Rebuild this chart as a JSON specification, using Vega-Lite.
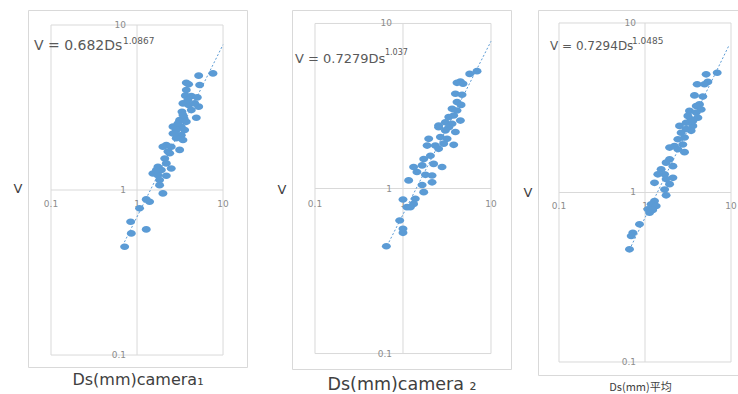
{
  "$schema": "https://vega.github.io/schema/vega-lite/v6.json",
  "background": "white",
  "padding": {"left": 12, "top": 9, "right": 0, "bottom": 0},
  "config": {
    "view": {"stroke": "#d9d9d9", "strokeWidth": 1},
    "axis": {"labels": false, "ticks": false, "domain": false, "grid": false, "titleFontWeight": "normal", "titleColor": "#404040", "titleFont": "DejaVu Sans"},
    "axisY": {"titleAngle": 0, "titleAlign": "right", "titleBaseline": "middle", "titlePadding": 6, "titleFontSize": 13},
    "text": {"font": "DejaVu Sans"}
  },
  "datasets": {
    "grid": [
      {"x": 0.1, "x2": 0.1, "y": 0.1, "y2": 10},
      {"x": 1, "x2": 1, "y": 0.1, "y2": 10},
      {"x": 10, "x2": 10, "y": 0.1, "y2": 10},
      {"x": 0.1, "x2": 10, "y": 0.1, "y2": 0.1},
      {"x": 0.1, "x2": 10, "y": 1, "y2": 1},
      {"x": 0.1, "x2": 10, "y": 10, "y2": 10}
    ],
    "ylab": [{"x": 1, "y": 10, "t": "10"}, {"x": 1, "y": 1, "t": "1"}, {"x": 1, "y": 0.1, "t": "0.1"}],
    "xlab": [{"x": 0.1, "y": 1, "t": "0.1"}, {"x": 1, "y": 1, "t": "1"}, {"x": 10, "y": 1, "t": "10"}],
    "t1": [{"x": 0.68, "y": 0.46}, {"x": 10, "y": 7.6}],
    "t2": [{"x": 0.66, "y": 0.45}, {"x": 10, "y": 7.8}],
    "t3": [{"x": 0.66, "y": 0.46}, {"x": 9.5, "y": 7.4}],
    "e1": [{"x": 0.0634, "y": 7.05, "t": "V = 0.682Ds"}],
    "s1": [{"x": 0.687, "y": 7.67, "t": "1.0867"}],
    "e2": [{"x": 0.0593, "y": 5.8, "t": "V = 0.7279Ds"}],
    "s2": [{"x": 0.624, "y": 6.4, "t": "1.037"}],
    "e3": [{"x": 0.0786, "y": 6.93, "t": "V = 0.7294Ds"}],
    "s3": [{"x": 0.706, "y": 7.52, "t": "1.0485"}],
    "p1": [
      {"x": 7.64, "y": 5.09}, {"x": 5.21, "y": 4.93}, {"x": 3.74, "y": 4.47}, {"x": 3.98, "y": 4.37}, {"x": 5.35, "y": 4.33},
      {"x": 3.65, "y": 3.73}, {"x": 4.28, "y": 3.71}, {"x": 5.02, "y": 3.64}, {"x": 3.42, "y": 3.35}, {"x": 3.98, "y": 3.27},
      {"x": 5.21, "y": 3.2}, {"x": 3.33, "y": 2.98}, {"x": 4.28, "y": 3.05}, {"x": 4.89, "y": 2.74}, {"x": 3.52, "y": 2.72},
      {"x": 3.13, "y": 2.65}, {"x": 3.74, "y": 2.59}, {"x": 2.62, "y": 2.42}, {"x": 3.27, "y": 2.42}, {"x": 2.86, "y": 2.31},
      {"x": 3.58, "y": 2.31}, {"x": 2.62, "y": 2.2}, {"x": 3.27, "y": 2.15}, {"x": 2.86, "y": 2.06}, {"x": 3.42, "y": 2.01},
      {"x": 2.19, "y": 1.87}, {"x": 2.0, "y": 1.83}, {"x": 2.5, "y": 1.83}, {"x": 3.13, "y": 1.75}, {"x": 2.29, "y": 1.71},
      {"x": 2.1, "y": 1.55}, {"x": 2.19, "y": 1.45}, {"x": 1.75, "y": 1.38}, {"x": 2.5, "y": 1.35}, {"x": 1.92, "y": 1.32},
      {"x": 1.53, "y": 1.26}, {"x": 1.75, "y": 1.23}, {"x": 2.19, "y": 1.22}, {"x": 1.83, "y": 1.15}, {"x": 1.83, "y": 1.07},
      {"x": 2.0, "y": 0.954}, {"x": 1.28, "y": 0.877}, {"x": 1.4, "y": 0.849}, {"x": 1.07, "y": 0.774}, {"x": 0.843, "y": 0.642},
      {"x": 0.858, "y": 0.546}, {"x": 1.28, "y": 0.577}, {"x": 0.718, "y": 0.453}, {"x": 2.99, "y": 2.53}, {"x": 3.9, "y": 3.51},
      {"x": 4.68, "y": 3.35}, {"x": 2.4, "y": 1.67}, {"x": 1.68, "y": 1.32}, {"x": 2.74, "y": 2.2}, {"x": 3.74, "y": 4.04},
      {"x": 3.42, "y": 2.85}
    ],
    "p2": [
      {"x": 6.94, "y": 5.14}, {"x": 5.73, "y": 4.95}, {"x": 4.49, "y": 4.45}, {"x": 4.11, "y": 4.37}, {"x": 4.81, "y": 4.31},
      {"x": 3.94, "y": 3.75}, {"x": 4.69, "y": 3.7}, {"x": 4.11, "y": 3.34}, {"x": 4.57, "y": 3.21}, {"x": 3.61, "y": 3.04},
      {"x": 4.11, "y": 2.97}, {"x": 3.77, "y": 2.77}, {"x": 3.31, "y": 2.71}, {"x": 4.49, "y": 2.58}, {"x": 3.03, "y": 2.52},
      {"x": 3.61, "y": 2.47}, {"x": 2.54, "y": 2.41}, {"x": 3.31, "y": 2.35}, {"x": 3.03, "y": 2.25}, {"x": 3.94, "y": 2.2},
      {"x": 2.54, "y": 2.35}, {"x": 2.66, "y": 2.05}, {"x": 1.96, "y": 2.0}, {"x": 3.17, "y": 2.0}, {"x": 1.88, "y": 1.82},
      {"x": 2.33, "y": 1.82}, {"x": 2.9, "y": 1.87}, {"x": 2.54, "y": 1.74}, {"x": 3.77, "y": 1.84}, {"x": 2.05, "y": 1.58},
      {"x": 1.72, "y": 1.51}, {"x": 2.23, "y": 1.41}, {"x": 2.78, "y": 1.35}, {"x": 1.32, "y": 1.35}, {"x": 1.65, "y": 1.38},
      {"x": 1.44, "y": 1.26}, {"x": 1.8, "y": 1.21}, {"x": 2.14, "y": 1.2}, {"x": 1.16, "y": 1.12}, {"x": 1.65, "y": 1.05},
      {"x": 2.14, "y": 1.09}, {"x": 1.72, "y": 0.95}, {"x": 1.0, "y": 0.858}, {"x": 1.38, "y": 0.866}, {"x": 1.32, "y": 0.807},
      {"x": 1.11, "y": 0.771}, {"x": 1.21, "y": 0.771}, {"x": 0.917, "y": 0.64}, {"x": 1.0, "y": 0.57}, {"x": 1.0, "y": 0.539},
      {"x": 0.647, "y": 0.447}
    ],
    "p3": [
      {"x": 6.91, "y": 5.09}, {"x": 5.14, "y": 4.98}, {"x": 5.38, "y": 4.49}, {"x": 4.04, "y": 4.35}, {"x": 4.92, "y": 4.35},
      {"x": 3.76, "y": 3.74}, {"x": 4.7, "y": 3.68}, {"x": 4.3, "y": 3.31}, {"x": 3.94, "y": 3.24}, {"x": 4.5, "y": 3.09},
      {"x": 3.29, "y": 3.03}, {"x": 3.94, "y": 2.96}, {"x": 3.15, "y": 2.83}, {"x": 4.12, "y": 2.76}, {"x": 3.44, "y": 2.7},
      {"x": 3.01, "y": 2.58}, {"x": 3.6, "y": 2.47}, {"x": 2.52, "y": 2.47}, {"x": 3.44, "y": 2.31}, {"x": 2.63, "y": 2.25},
      {"x": 2.88, "y": 2.11}, {"x": 2.41, "y": 2.06}, {"x": 2.75, "y": 1.92}, {"x": 1.93, "y": 1.84}, {"x": 2.2, "y": 1.88},
      {"x": 2.41, "y": 1.8}, {"x": 2.88, "y": 1.73}, {"x": 1.93, "y": 1.57}, {"x": 1.76, "y": 1.5}, {"x": 2.11, "y": 1.43},
      {"x": 1.54, "y": 1.37}, {"x": 1.69, "y": 1.28}, {"x": 1.41, "y": 1.28}, {"x": 2.11, "y": 1.22}, {"x": 1.76, "y": 1.2},
      {"x": 1.29, "y": 1.14}, {"x": 1.93, "y": 1.12}, {"x": 1.69, "y": 1.04}, {"x": 1.76, "y": 0.962}, {"x": 1.29, "y": 0.891},
      {"x": 1.18, "y": 0.851}, {"x": 1.35, "y": 0.832}, {"x": 1.08, "y": 0.796}, {"x": 1.23, "y": 0.788}, {"x": 1.13, "y": 0.76},
      {"x": 0.863, "y": 0.649}, {"x": 0.722, "y": 0.579}, {"x": 0.691, "y": 0.554}, {"x": 0.66, "y": 0.462}, {"x": 3.6, "y": 2.64},
      {"x": 3.01, "y": 2.37}
    ]
  },
  "spacing": 10,
  "hconcat": [
    {
      "spacing": 28,
      "hconcat": [
        {
          "width": 219, "height": 357,
          "encoding": {
            "x": {"field": "x", "type": "quantitative", "scale": {"type": "log", "domain": [0.054, 19.0], "nice": false}, "axis": {"title": "Ds(mm)camera₁", "titleFontSize": 16, "titlePadding": 4}},
            "y": {"field": "y", "type": "quantitative", "scale": {"type": "log", "domain": [0.0846, 12.33], "nice": false}, "axis": {"title": "V"}}
          },
          "layer": [
            {"data": {"name": "grid"}, "mark": {"type": "rule", "color": "#d9d9d9", "strokeWidth": 1}, "encoding": {"x2": {"field": "x2"}, "y2": {"field": "y2"}}},
            {"data": {"name": "ylab"}, "mark": {"type": "text", "align": "right", "baseline": "middle", "dx": -11, "fontSize": 9, "color": "#8c8c8c"}, "encoding": {"text": {"field": "t"}}},
            {"data": {"name": "xlab"}, "mark": {"type": "text", "align": "center", "baseline": "middle", "dy": 14, "fontSize": 9, "color": "#8c8c8c"}, "encoding": {"text": {"field": "t"}}},
            {"data": {"name": "t1"}, "mark": {"type": "line", "color": "#5b9bd5", "strokeDash": [2, 2], "strokeWidth": 1}, "encoding": {}},
            {"data": {"name": "p1"}, "mark": {"type": "point", "filled": true, "opacity": 1, "color": "#5b9bd5", "size": 44, "shape": "M-1.35,0A1.35,1,0,1,1,1.35,0A1.35,1,0,1,1,-1.35,0Z"}, "encoding": {}},
            {"data": {"name": "e1"}, "mark": {"type": "text", "align": "left", "baseline": "alphabetic", "fontSize": 14, "color": "#595959"}, "encoding": {"text": {"field": "t"}}},
            {"data": {"name": "s1"}, "mark": {"type": "text", "align": "left", "baseline": "alphabetic", "fontSize": 9, "color": "#595959"}, "encoding": {"text": {"field": "t"}}}
          ]
        },
        {
          "width": 219, "height": 359,
          "encoding": {
            "x": {"field": "x", "type": "quantitative", "scale": {"type": "log", "domain": [0.0548, 16.88], "nice": false}, "axis": {"title": "Ds(mm)camera ₂", "titleFontSize": 17.5, "titlePadding": 6}},
            "y": {"field": "y", "type": "quantitative", "scale": {"type": "log", "domain": [0.0806, 12.07], "nice": false}, "axis": {"title": "V"}}
          },
          "layer": [
            {"data": {"name": "grid"}, "mark": {"type": "rule", "color": "#d9d9d9", "strokeWidth": 1}, "encoding": {"x2": {"field": "x2"}, "y2": {"field": "y2"}}},
            {"data": {"name": "ylab"}, "mark": {"type": "text", "align": "right", "baseline": "middle", "dx": -11, "fontSize": 9, "color": "#8c8c8c"}, "encoding": {"text": {"field": "t"}}},
            {"data": {"name": "xlab"}, "mark": {"type": "text", "align": "center", "baseline": "middle", "dy": 15, "fontSize": 9, "color": "#8c8c8c"}, "encoding": {"text": {"field": "t"}}},
            {"data": {"name": "t2"}, "mark": {"type": "line", "color": "#5b9bd5", "strokeDash": [2, 2], "strokeWidth": 1}, "encoding": {}},
            {"data": {"name": "p2"}, "mark": {"type": "point", "filled": true, "opacity": 1, "color": "#5b9bd5", "size": 44, "shape": "M-1.35,0A1.35,1,0,1,1,1.35,0A1.35,1,0,1,1,-1.35,0Z"}, "encoding": {}},
            {"data": {"name": "e2"}, "mark": {"type": "text", "align": "left", "baseline": "alphabetic", "fontSize": 13, "color": "#595959"}, "encoding": {"text": {"field": "t"}}},
            {"data": {"name": "s2"}, "mark": {"type": "text", "align": "left", "baseline": "alphabetic", "fontSize": 8, "color": "#595959"}, "encoding": {"text": {"field": "t"}}}
          ]
        }
      ]
    },
    {
      "width": 204, "height": 365,
      "encoding": {
        "x": {"field": "x", "type": "quantitative", "scale": {"type": "log", "domain": [0.057, 13.42], "nice": false}, "axis": {"title": "Ds(mm)平均", "titleFont": "Noto Sans CJK SC", "titleFontSize": 11, "titlePadding": 6}},
        "y": {"field": "y", "type": "quantitative", "scale": {"type": "log", "domain": [0.0838, 11.93], "nice": false}, "axis": {"title": "V"}}
      },
      "layer": [
        {"data": {"name": "grid"}, "mark": {"type": "rule", "color": "#d9d9d9", "strokeWidth": 1}, "encoding": {"x2": {"field": "x2"}, "y2": {"field": "y2"}}},
        {"data": {"name": "ylab"}, "mark": {"type": "text", "align": "right", "baseline": "middle", "dx": -9, "fontSize": 9, "color": "#8c8c8c"}, "encoding": {"text": {"field": "t"}}},
        {"data": {"name": "xlab"}, "mark": {"type": "text", "align": "center", "baseline": "middle", "dy": 14, "fontSize": 9, "color": "#8c8c8c"}, "encoding": {"text": {"field": "t"}}},
        {"data": {"name": "t3"}, "mark": {"type": "line", "color": "#5b9bd5", "strokeDash": [2, 2], "strokeWidth": 1}, "encoding": {}},
        {"data": {"name": "p3"}, "mark": {"type": "point", "filled": true, "opacity": 1, "color": "#5b9bd5", "size": 44, "shape": "M-1.35,0A1.35,1,0,1,1,1.35,0A1.35,1,0,1,1,-1.35,0Z"}, "encoding": {}},
        {"data": {"name": "e3"}, "mark": {"type": "text", "align": "left", "baseline": "alphabetic", "fontSize": 12, "color": "#595959"}, "encoding": {"text": {"field": "t"}}},
        {"data": {"name": "s3"}, "mark": {"type": "text", "align": "left", "baseline": "alphabetic", "fontSize": 9, "color": "#595959"}, "encoding": {"text": {"field": "t"}}}
      ]
    }
  ]
}
